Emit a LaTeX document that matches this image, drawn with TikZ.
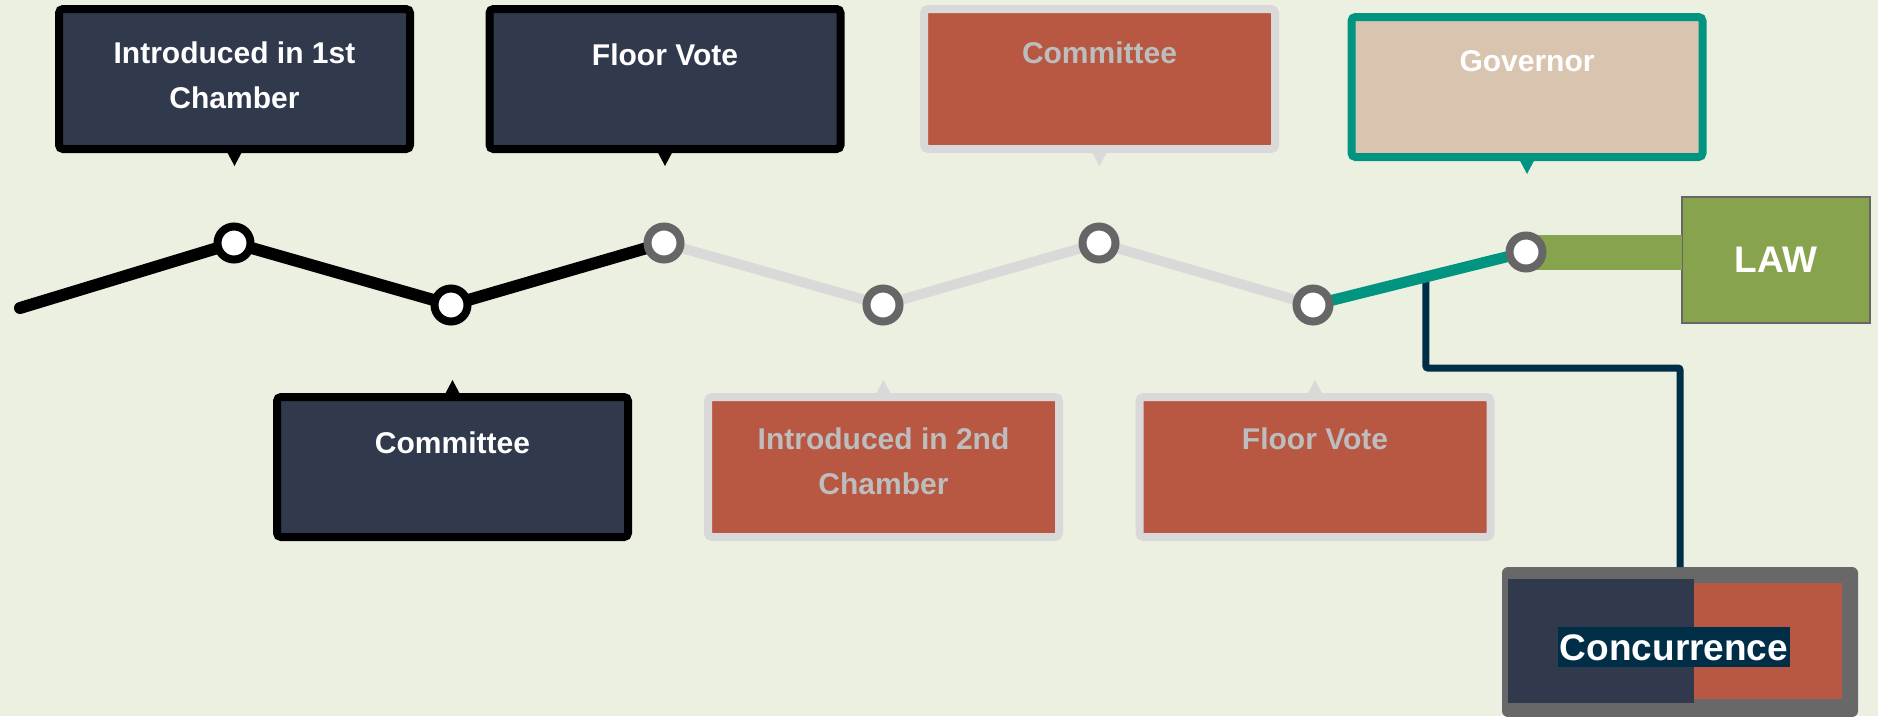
\documentclass[tikz,border=0pt]{standalone}
\usepackage{fontspec}
\setmainfont{Liberation Sans}
\usetikzlibrary{calc}
\definecolor{bgc}{HTML}{ECF0E1}
\definecolor{navy}{HTML}{31394D}
\definecolor{brick}{HTML}{B85842}
\definecolor{lgrey}{HTML}{D9D9D9}
\definecolor{silver}{HTML}{BDBDBD}
\definecolor{beige}{HTML}{D9C4B0}
\definecolor{teal2}{HTML}{009481}
\definecolor{olive}{HTML}{88A34E}
\definecolor{dgrey}{HTML}{666666}
\definecolor{deepnavy}{HTML}{002E47}
\definecolor{cgrey}{HTML}{686868}
\tikzset{
  card/.style={rectangle, line width=8pt, rounded corners=4pt, minimum width=351pt, minimum height=140pt, inner sep=0pt, outer sep=0pt},
  darkcard/.style={card, draw=black, fill=navy},
  palecard/.style={card, draw=lgrey, fill=brick},
  govcard/.style={card, draw=teal2, fill=beige},
  cardtext/.style={anchor=north, inner sep=0pt, align=center, font=\fontsize{30}{45}\selectfont\bfseries},
  stopdot/.style={circle, line width=8pt, fill=white, minimum size=33pt, inner sep=0pt, outer sep=0pt},
  trackline/.style={line width=12pt, line cap=round, line join=round},
}
\begin{document}
\begin{tikzpicture}[x=1pt,y=-1pt]
\useasboundingbox (0,0) rectangle (1878,716);
\fill[bgc] (0,0) rectangle (1878,716);

% track positions
\coordinate (s0) at (20,308);
\coordinate (p1) at (234,243);
\coordinate (p2) at (451,305);
\coordinate (p3) at (664,243);
\coordinate (p4) at (883,305);
\coordinate (p5) at (1099,243);
\coordinate (p6) at (1313,305);
\coordinate (p7) at (1526,252);

% LAW box
\node[rectangle, draw=dgrey, line width=2pt, fill=olive, minimum width=188pt, minimum height=126pt, inner sep=0pt, outer sep=0pt,
      text=white, font=\fontsize{37}{37}\selectfont\bfseries] (law) at (1776,260) {LAW};

% Concurrence box
\node[rectangle, fill=cgrey, rounded corners=6pt, minimum width=356pt, minimum height=150pt, inner sep=0pt, outer sep=0pt] (conc) at (1680,642) {};
\fill[navy] (1508,579) rectangle (1694,703);
\fill[brick] (1694,583) rectangle (1842,699);
\node[fill=deepnavy, text=white, font=\fontsize{37}{37}\selectfont\bfseries, text height=27pt, text depth=0pt, inner xsep=2pt, inner ysep=6.5pt] (conctext) at (1674,647) {Concurrence};

% connector to concurrence
\coordinate (tj) at ($(p6)!0.53!(p7)$);
\draw[deepnavy, line width=7pt, rounded corners=2pt] (tj) -- (tj |- 0,368) -| (conc.north);

% green bar to LAW
\draw[olive, line width=35pt] (p7) -- (p7 -| law.west);

% track
\draw[trackline, black] (s0) -- (p1) -- (p2) -- (p3);
\draw[trackline, lgrey, line width=10pt] (p3) -- (p4) -- (p5) -- (p6);
\draw[trackline, teal2, line width=11pt, line cap=butt] (p6) -- (p7);

% stops
\node[stopdot, draw=black] (c1) at (p1) {};
\node[stopdot, draw=black] (c2) at (p2) {};
\node[stopdot, draw=dgrey] (c3) at (p3) {};
\node[stopdot, draw=dgrey] (c4) at (p4) {};
\node[stopdot, draw=dgrey] (c5) at (p5) {};
\node[stopdot, draw=dgrey] (c6) at (p6) {};
\node[stopdot, draw=dgrey] (c7) at (p7) {};

% top cards
\node[darkcard] (b1) at (234.5,79) {};
\fill[black] ($(b1.south)+(-9,0)$) -- ($(b1.south)+(9,0)$) -- ($(b1.south)+(0,17)$) -- cycle;
\node[cardtext, text=white] (t1) at (234.5,42) {Introduced in 1st\\Chamber};

\node[darkcard] (b2) at (665,79) {};
\fill[black] ($(b2.south)+(-9,0)$) -- ($(b2.south)+(9,0)$) -- ($(b2.south)+(0,17)$) -- cycle;
\node[cardtext, text=white] (t2) at (665,44) {Floor Vote};

\node[palecard] (b3) at (1099.5,79) {};
\fill[lgrey] ($(b3.south)+(-9,0)$) -- ($(b3.south)+(9,0)$) -- ($(b3.south)+(0,17)$) -- cycle;
\node[cardtext, text=silver] (t3) at (1099.5,42) {Committee};

\node[govcard] (gov) at (1527,87) {};
\fill[teal2] ($(gov.south)+(-9,0)$) -- ($(gov.south)+(9,0)$) -- ($(gov.south)+(0,17)$) -- cycle;
\node[cardtext, text=white] (tgov) at (1527,50) {Governor};

% bottom cards
\node[darkcard] (b4) at (452.5,467) {};
\fill[black] ($(b4.north)+(-9,0)$) -- ($(b4.north)+(9,0)$) -- ($(b4.north)+(0,-17)$) -- cycle;
\node[cardtext, text=white] (t4) at (452.5,432) {Committee};

\node[palecard] (b5) at (883.5,467) {};
\fill[lgrey] ($(b5.north)+(-9,0)$) -- ($(b5.north)+(9,0)$) -- ($(b5.north)+(0,-17)$) -- cycle;
\node[cardtext, text=silver] (t5) at (883.5,428) {Introduced in 2nd\\Chamber};

\node[palecard] (b6) at (1315,467) {};
\fill[lgrey] ($(b6.north)+(-9,0)$) -- ($(b6.north)+(9,0)$) -- ($(b6.north)+(0,-17)$) -- cycle;
\node[cardtext, text=silver] (t6) at (1315,428) {Floor Vote};
\end{tikzpicture}
\end{document}
